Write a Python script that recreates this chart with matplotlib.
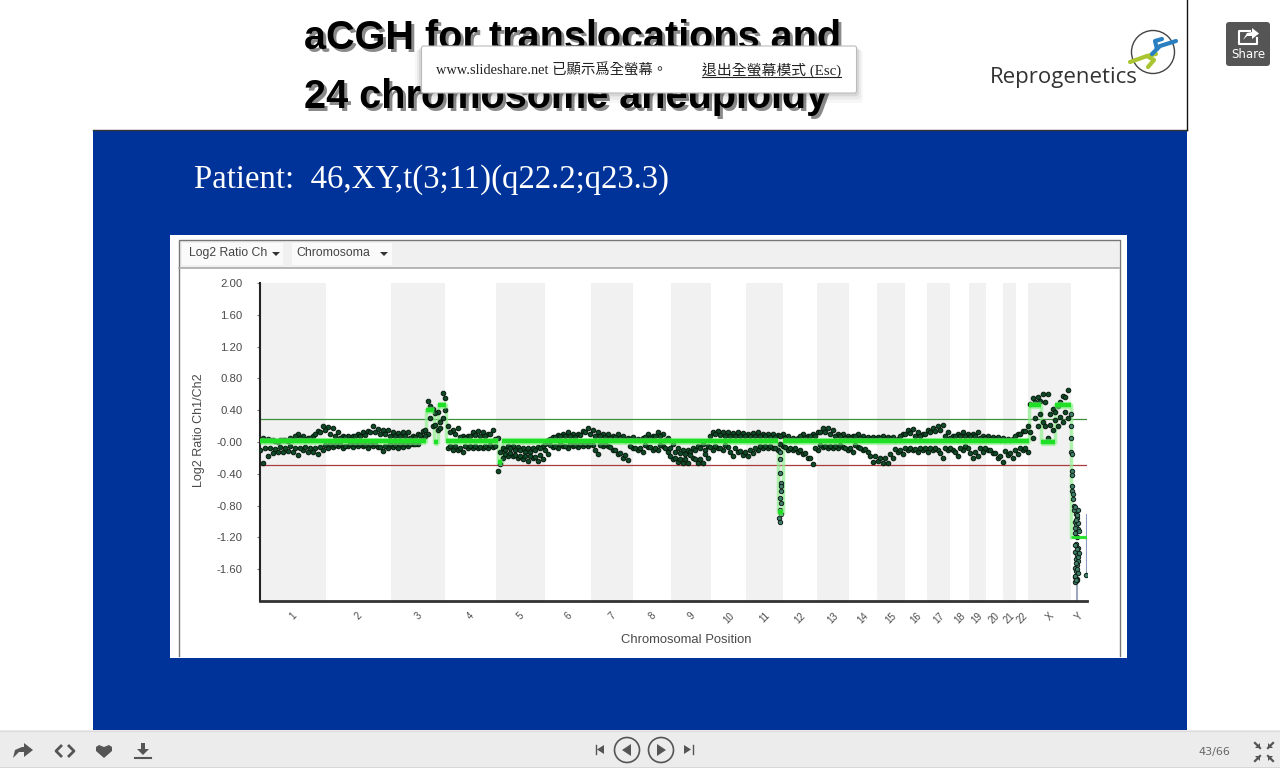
import matplotlib
matplotlib.use("Agg")
import matplotlib.pyplot as plt
from matplotlib.patches import Rectangle, FancyBboxPatch, Circle, Polygon

# chromosome boundaries along the genome axis
CHROM_EDGES = [0, 66, 131, 185, 236, 285, 331, 373, 411, 451, 486, 523, 557,
               589, 617, 645, 667, 690, 709, 726, 743, 756, 768, 811, 827]
CHROM_LABELS = ["1", "2", "3", "4", "5", "6", "7", "8", "9", "10", "11", "12",
                "13", "14", "15", "16", "17", "18", "19", "20", "21", "22", "X", "Y"]
Y_TICKS = [2.0, 1.6, 1.2, 0.8, 0.4, 0.0, -0.4, -0.8, -1.2, -1.6]
Y_LABELS = ["2.00", "1.60", "1.20", "0.80", "0.40", "-0.00", "-0.40", "-0.80", "-1.20", "-1.60"]
UPPER_LIMIT = 0.295
LOWER_LIMIT = -0.29

# probe envelope
PROBE_X = [3, 8, 13, 18, 23, 28, 33, 38, 43, 48,
           53, 58, 63, 68, 73, 78, 83, 88, 93, 98,
           103, 108, 113, 118, 123, 128, 133, 138, 143, 148,
           153, 158, 163, 168, 173, 178, 183, 188, 193, 198,
           203, 208, 213, 218, 223, 228, 233, 238, 243, 248,
           253, 258, 263, 268, 273, 278, 283, 288, 293, 298,
           303, 308, 313, 318, 323, 328, 333, 338, 343, 348,
           353, 358, 363, 368, 373, 378, 383, 388, 393, 398,
           403, 408, 413, 418, 423, 428, 433, 438, 443, 448,
           453, 458, 463, 468, 473, 478, 483, 488, 493, 498,
           503, 508, 513, 518, 523, 528, 533, 538, 543, 548,
           553, 558, 563, 568, 573, 578, 583, 588, 593, 598,
           603, 608, 613, 618, 623, 628, 633, 638, 643, 648,
           653, 658, 663, 668, 673, 678, 683, 688, 693, 698,
           703, 708, 713, 718, 723, 728, 733, 738, 743, 748,
           753, 758, 763, 768, 773, 778, 783, 788, 793, 798,
           803, 808]
PROBE_HIGH = [.05, .04, .02, .0, .02, .01, .03, .10, .08, .05,
              .08, .14, .20, .19, .17, .12, .08, .07, .08, .10,
              .12, .14, .20, .16, .15, .15, .12, .11, .12, .12,
              .08, .10, .14, .52, .42, .38, .62, .20, .15, .18,
              .08, .07, .12, .14, .12, .10, .15, .05, -.08, -.05,
              -.05, -.06, -.07, -.08, -.08, -.06, -.05, .02, .06, .09,
              .10, .12, .10, .10, .14, .18, .15, .12, .10, .10,
              .08, .10, .07, .05, .06, .04, .05, .10, .08, .12,
              .10, .05, -.03, -.08, -.10, -.10, -.08, -.05, -.03, -.05,
              .12, .14, .13, .12, .11, .12, .11, .10, .11, .12,
              .10, .10, .10, .09, .10, .08, .05, .05, .10, .08,
              .10, .12, .18, .17, .15, .10, .10, .08, .08, .10,
              .07, .06, .06, .06, .08, .06, .06, .04, .10, .15,
              .16, .12, .10, .15, .17, .20, .22, .12, .08, .10,
              .12, .10, .10, .12, .08, .08, .06, .06, .05, .04,
              .04, .10, .14, .20, .55, .56, .60, .60, .42, .45,
              .58, .65]
PROBE_LOW = [-.26, -.17, -.14, -.12, -.13, -.11, -.12, -.16, -.10, -.12,
             -.12, -.15, -.10, -.08, -.06, -.05, -.07, -.05, -.06, -.05,
             -.05, -.07, -.05, -.06, -.11, -.08, -.06, -.07, -.06, -.05,
             -.03, -.03, .05, .10, .20, .15, .30, -.08, -.10, -.10,
             -.12, -.08, -.08, -.08, -.08, -.08, -.06, -.36, -.20, -.17,
             -.18, -.20, -.22, -.24, -.20, -.24, -.22, -.15, -.06, -.07,
             -.05, -.08, -.05, -.06, -.05, -.05, -.04, -.15, -.05, -.05,
             -.10, -.15, -.20, -.23, -.08, -.10, -.12, -.06, -.10, -.10,
             -.05, -.12, -.22, -.25, -.27, -.26, -.20, -.27, -.27, -.20,
             -.10, -.08, -.10, -.06, -.17, -.12, -.16, -.18, -.14, -.10,
             -.08, -.08, -.08, -.10, -.05, -.10, -.10, -.12, -.15, -.20,
             -.28, -.10, -.06, -.08, -.07, -.08, -.06, -.10, -.12, -.06,
             -.10, -.12, -.25, -.24, -.27, -.27, -.20, -.12, -.15, -.10,
             -.10, -.13, -.10, -.12, -.10, -.10, -.20, -.10, -.10, -.18,
             -.10, -.08, -.20, -.18, -.12, -.10, -.14, -.20, -.25, -.16,
             -.20, -.15, -.10, -.12, .05, .20, .25, .05, .15, .20,
             .25, .30]

# second pass through the same cloud, closer to the call line
INNER_X = [0, 5, 10, 15, 20, 25, 30, 35, 40, 45,
           50, 55, 60, 65, 70, 75, 80, 85, 90, 95,
           100, 105, 110, 115, 120, 125, 130, 135, 140, 145,
           150, 155, 160, 165, 170, 175, 180, 185, 190, 195,
           200, 205, 210, 215, 220, 225, 230, 235, 240, 245,
           250, 255, 260, 265, 270, 275, 280, 285, 290, 295,
           300, 305, 310, 315, 320, 325, 330, 335, 340, 345,
           350, 355, 360, 365, 370, 375, 380, 385, 390, 395,
           400, 405, 410, 415, 420, 425, 430, 435, 440, 445,
           450, 455, 460, 465, 470, 475, 480, 485, 490, 495,
           500, 505, 510, 515, 520, 525, 530, 535, 540, 545,
           550, 555, 560, 565, 570, 575, 580, 585, 590, 595,
           600, 605, 610, 615, 620, 625, 630, 635, 640, 645,
           650, 655, 660, 665, 670, 675, 680, 685, 690, 695,
           700, 705, 710, 715, 720, 725, 730, 735, 740, 745,
           750, 755, 760, 765, 770, 775, 780, 785, 790, 795,
           800, 805]
INNER_HIGH = [.03, .02, .03, .01, .02, .03, .05, .07, .05, .03,
              .05, .10, .12, .15, .10, .08, .05, .06, .04, .07,
              .08, .09, .13, .12, .10, .10, .08, .07, .08, .07,
              .05, .06, .09, .15, .45, .36, .25, .55, .12, .10,
              .06, .05, .08, .09, .07, .07, .10, .04, -.12, -.10,
              -.08, -.10, -.10, -.12, -.12, -.10, -.08, -.02, .04, .06,
              .07, .08, .07, .06, .09, .12, .10, .08, .07, .06,
              .05, .06, .05, .03, .04, .03, .03, .06, .05, .08,
              .07, .03, -.07, -.12, -.14, -.15, -.12, -.10, -.08, -.10,
              .08, .10, .09, .08, .07, .08, .07, .07, .07, .08,
              .07, .07, .06, .06, .07, .05, .03, .03, .07, .05,
              .07, .08, .13, .12, .10, .07, .07, .05, .05, .07,
              .05, .04, .04, .04, .05, .04, .04, .03, .07, .10,
              .11, .08, .07, .10, .12, .14, .15, .08, .05, .07,
              .08, .07, .07, .08, .05, .05, .04, .04, .03, .03,
              .03, .07, .10, .14, .48, .50, .52, .50, .35, .38,
              .50, .56]
INNER_LOW = [-.10, -.08, -.07, -.09, -.06, -.07, -.05, -.08, -.07, -.06,
             -.08, -.07, -.06, -.04, -.03, -.04, -.03, -.05, -.03, -.03,
             -.03, -.04, -.03, -.03, -.06, -.05, -.03, -.04, -.03, -.03,
             -.02, -.02, .03, .08, .30, .22, .18, .40, -.05, -.05,
             -.07, -.05, -.05, -.05, -.06, -.05, -.04, -.05, -.28, -.15,
             -.14, -.16, -.17, -.18, -.17, -.19, -.16, -.10, -.04, -.05,
             -.03, -.05, -.03, -.04, -.03, -.03, -.03, -.10, -.04, -.03,
             -.06, -.10, -.14, -.16, -.05, -.07, -.08, -.04, -.06, -.07,
             -.04, -.08, -.17, -.20, -.22, -.21, -.16, -.22, -.22, -.15,
             -.06, -.05, -.07, -.04, -.12, -.08, -.11, -.13, -.10, -.07,
             -.05, -.05, -.05, -.07, -.03, -.06, -.07, -.08, -.10, -.14,
             -.20, -.07, -.04, -.05, -.05, -.05, -.04, -.07, -.08, -.04,
             -.07, -.09, -.18, -.17, -.20, -.20, -.15, -.09, -.10, -.07,
             -.07, -.09, -.07, -.08, -.07, -.07, -.14, -.07, -.07, -.12,
             -.07, -.05, -.14, -.12, -.08, -.07, -.10, -.14, -.18, -.11,
             -.14, -.10, -.07, -.08, .12, .30, .35, .20, .22, .28,
             .32, .38]

# chr11 deletion and chrY drop
SPIKE_X = [520, 520, 520, 521, 521, 521, 520, 521, 520, 521, 519, 520,
           811, 811, 811, 811, 812, 812, 812, 812, 812, 813, 813, 814, 814,
           815, 816, 817, 815, 816, 818, 815, 817, 816, 818, 815, 817, 816, 818,
           817, 815, 816, 818, 815, 817, 816, 815, 817, 826,
           818, 817, 815, 818, 816, 819, 817, 815, 818, 816, 819, 817, 815, 816]
SPIKE_Y = [-.12, -.22, -.39, -.52, -.55, -.62, -.70, -.77, -.85, -.90, -.96, -1.0,
           .35, .20, .05, -.12, -.15, -.37, -.42, -.55, -.62, -.65, -.72, -.80, -.85,
           -.82, -.90, -.95, -1.0, -1.05, -1.1, -1.15, -1.2, -1.28, -1.33, -1.38, -1.42, -1.47, -1.5,
           -1.55, -1.58, -1.62, -1.65, -1.7, -1.72, -1.75, -1.76, -1.74, -1.67,
           -.85, -.92, -1.08, -1.02, -.98, -1.12, -1.35, -1.30, -1.45, -1.52, -1.4, -1.6, -1.68, -1.73]

# segment calls (start, end, value)
SEG_START = [0, 166, 174, 178, 186, 238, 242, 518, 523, 769, 781, 795, 811]
SEG_END = [166, 174, 178, 186, 238, 242, 518, 523, 769, 781, 795, 811, 828]
SEG_VALUE = [.01, .40, .0, .46, .01, -.25, .01, -.88, .01, .47, .0, .47, -1.2]

BLUE = "#003399"
TEXT_GREY = "#4a4a4a"
CJK = ["Liberation Serif", "Noto Sans CJK TC", "DejaVu Sans"]


def draw_page(bg):
    bg.add_patch(Rectangle((93, 130), 1094, 600, fc=BLUE, ec="none"))
    bg.plot([93, 1187], [129.5, 129.5], color="#333333", lw=1)
    bg.plot([1186.5, 1186.5], [0, 130], color="#111111", lw=1)

    # chart panel
    bg.add_patch(Rectangle((170, 235), 957, 423, fc="white", ec="none"))
    bg.add_patch(Rectangle((179, 240), 940, 28, fc="#f0f0f0", ec="none"))
    bg.plot([178.5, 178.5, 1120, 1120], [656, 239.5, 239.5, 656], color="#777777", lw=1)
    bg.plot([179, 1119], [268, 268], color="#aaaaaa", lw=1.2)
    for x0, x1, text_x, label, arrow_x in [(182, 283, 189, "Log2 Ratio Ch", 276),
                                           (292, 392, 296, "Chromosoma", 384)]:
        bg.add_patch(Rectangle((x0, 243), x1 - x0, 22, fc="#fafafa", ec="none"))
        bg.text(text_x, 253, label, fontsize=8.8, color="#444444", va="center",
                family="Liberation Sans")
        bg.add_patch(Polygon([(arrow_x - 4, 252), (arrow_x + 4, 252), (arrow_x, 256)],
                             fc="#333333", ec="none"))

    # slide title with drop shadow
    for line, y in [("aCGH for translocations and", 38), ("24 chromosome aneuploidy", 97)]:
        bg.text(307, y + 3, line, fontsize=28.5, fontweight="bold", color="#8a8a8a",
                va="center", family="Liberation Sans", zorder=3)
        bg.text(304, y, line, fontsize=28.5, fontweight="bold", color="black",
                va="center", family="Liberation Sans", zorder=3)

    bg.text(194, 180, "Patient:  46,XY,t(3;11)(q22.2;q23.3)", fontsize=23.6, color="white",
            va="center", family="Liberation Serif")

    # fullscreen notice sits on top of the title
    for grow, alpha in [(12, .03), (8, .05), (4, .08)]:
        bg.add_patch(FancyBboxPatch((421 - grow / 2, 46 + grow / 3), 436 + grow, 47 + grow / 2,
                                    boxstyle="round,pad=0,rounding_size=4",
                                    fc="black", ec="none", alpha=alpha, zorder=5))
    bg.add_patch(FancyBboxPatch((421.5, 46), 435, 47, boxstyle="round,pad=0,rounding_size=2",
                                fc="white", ec="#bbbbbb", lw=.8, zorder=6))
    bg.text(436, 70, "www.slideshare.net 已顯示爲全螢幕。", fontsize=10.4, color="#222222",
            va="center", family=CJK, zorder=7)
    bg.text(702, 70, "退出全螢幕模式 (Esc)", fontsize=10.7, color="#222222", va="center",
            family=CJK, zorder=7)
    bg.plot([702, 841], [77, 77], color="#222222", lw=.8, zorder=7)

    # logo
    bg.text(990, 77, "Reprogenetics", fontsize=16, color="#333333", va="center", family="Open Sans")
    bg.add_patch(Circle((1153, 52), 21.5, fc="none", ec="#444444", lw=1))
    bg.plot([1130, 1147, 1156], [62, 56, 54], color="#a9c52f", lw=3, solid_capstyle="round")
    bg.plot([1147, 1154, 1148], [56, 60, 67], color="#a9c52f", lw=3, solid_capstyle="round")
    bg.plot([1152, 1160, 1176], [54, 46, 41], color="#2a7fc0", lw=3, solid_capstyle="round")
    bg.plot([1157, 1155, 1162], [49, 41, 39], color="#2a7fc0", lw=3, solid_capstyle="round")

    # share button
    bg.add_patch(FancyBboxPatch((1226, 22), 44, 44, boxstyle="round,pad=0,rounding_size=3",
                                fc="#555555", ec="none"))
    bg.plot([1250, 1239, 1239, 1257, 1257], [31, 31, 44, 44, 38], color="white", lw=1.5)
    bg.add_patch(Polygon([(1243, 40), (1247, 33), (1252, 32), (1252, 28), (1259, 33.5),
                          (1252, 39), (1252, 36), (1247, 36)], fc="white", ec="none"))
    bg.text(1248, 54, "Share", fontsize=8.5, color="white", ha="center", va="center",
            family="DejaVu Sans")


def draw_toolbar(bg):
    icon = "#555555"
    bg.add_patch(Rectangle((0, 730), 1280, 38, fc="#ececec", ec="none"))
    bg.plot([0, 1280], [730.5, 730.5], color="#dddddd", lw=1)
    bg.plot([0, 1280], [767.5, 767.5], color="#888888", lw=1)

    bg.add_patch(Polygon([(13, 758), (15, 750), (22, 747), (24, 747), (24, 743), (33, 750),
                          (24, 757), (24, 752), (19, 752)], fc=icon, ec="none"))
    bg.plot([61, 56, 61], [746, 751, 756], color=icon, lw=2)
    bg.plot([69, 74, 69], [746, 751, 756], color=icon, lw=2)
    bg.add_patch(Polygon([(104, 758), (96, 751), (96, 747), (99, 745), (104, 747), (109, 745),
                          (112, 747), (112, 751)], fc=icon, ec="none"))
    bg.add_patch(Polygon([(141, 743), (145, 743), (145, 749), (149, 749), (143, 755), (137, 749),
                          (141, 749)], fc=icon, ec="none"))
    bg.plot([135, 151], [758, 758], color=icon, lw=1.5)

    bg.plot([595.5, 595.5], [745, 754], color=icon, lw=1)
    bg.add_patch(Polygon([(604, 745), (604, 754), (597, 749.5)], fc=icon, ec="none"))
    for cx, pts in [(627, [(631, 744), (631, 756), (622, 750)]),
                    (661, [(657, 744), (657, 756), (666, 750)])]:
        bg.add_patch(Circle((cx, 750), 12.5, fc="none", ec=icon, lw=1.2))
        bg.add_patch(Polygon(pts, fc=icon, ec="none"))
    bg.add_patch(Polygon([(684, 745), (684, 754), (691, 749.5)], fc=icon, ec="none"))
    bg.plot([692.5, 692.5], [745, 754], color=icon, lw=1)

    bg.text(1214, 752, "43/66", fontsize=8, color="#666666", ha="center", va="center",
            family="DejaVu Sans")
    for cx, cy, sx, sy in [(1260, 748, -1, -1), (1268, 748, 1, -1), (1260, 756, -1, 1), (1268, 756, 1, 1)]:
        bg.plot([cx, cx + 5 * sx], [cy, cy + 5 * sy], color=icon, lw=1.6)
        bg.add_patch(Polygon([(cx, cy), (cx + 5 * sx, cy), (cx, cy + 5 * sy)], fc=icon, ec="none"))


def draw_chart(ax):
    ax.set_facecolor("none")
    ax.set_xlim(0, 827)
    ax.set_ylim(-2, 2)

    for left, right in zip(CHROM_EDGES[0::2], CHROM_EDGES[1::2]):
        ax.axvspan(left, right, color="#f1f1f1", lw=0, zorder=0)

    ax.plot([0, 826], [UPPER_LIMIT, UPPER_LIMIT], color="#3f8f3f", lw=.9, zorder=1)
    ax.plot([0, 826], [LOWER_LIMIT, LOWER_LIMIT], color="#a83c3c", lw=.9, zorder=1)

    # pale step trace behind the calls
    step_x, step_y = [], []
    for start, end, value in zip(SEG_START, SEG_END, SEG_VALUE):
        step_x += [start, end]
        step_y += [value, value]
    ax.plot(step_x, step_y, color="#8ff08f", lw=2.5, alpha=.7, zorder=2, solid_joinstyle="miter")

    dot = dict(s=11, c="#0f4a27", edgecolors="#061a0c", linewidths=.7, zorder=3)
    ax.scatter(PROBE_X, PROBE_HIGH, **dot)
    ax.scatter(PROBE_X, PROBE_LOW, **dot)
    ax.scatter(INNER_X, INNER_HIGH, **dot)
    ax.scatter(INNER_X, INNER_LOW, **dot)
    ax.scatter(SPIKE_X, SPIKE_Y, s=10, c="#3f7f6a", edgecolors="#102018", linewidths=.7, zorder=3)

    ax.plot([826, 826], [-.9, -1.67], color="#8a9ac0", lw=.8, zorder=2)
    ax.plot([817, 817], [-1.75, -2], color="#a0a8c0", lw=1.5, zorder=2)

    # flat stretches get a halo, the short jumps stay crisp
    ax.hlines(SEG_VALUE[:-1], SEG_START[:-1], SEG_END[:-1], color="#7ff07f", lw=5.2, alpha=.6, zorder=4)
    ax.hlines(SEG_VALUE[:-1], SEG_START[:-1], SEG_END[:-1], color="#1fe026", lw=3.2, zorder=4)
    ax.hlines(SEG_VALUE[-1:], SEG_START[-1:], SEG_END[-1:], color="#25e02a", lw=2, zorder=4)

    ax.set_yticks(Y_TICKS)
    ax.set_yticklabels(Y_LABELS, fontsize=8.2, color=TEXT_GREY, family="Liberation Sans")
    ax.tick_params(axis="y", length=2.5, width=.8, color="#777777", pad=10)

    centers = [(a + b) / 2 for a, b in zip(CHROM_EDGES[:-1], CHROM_EDGES[1:])]
    ax.set_xticks(centers)
    ax.set_xticklabels(CHROM_LABELS, fontsize=7, color=TEXT_GREY, rotation=45,
                       family="Liberation Sans")
    ax.tick_params(axis="x", length=0, pad=7)
    ax.set_xticks(CHROM_EDGES[1:-1], minor=True)
    ax.tick_params(axis="x", which="minor", length=3, width=.8, color="white", direction="inout")

    for side in ["top", "right"]:
        ax.spines[side].set_visible(False)
    ax.spines["left"].set_linewidth(1.5)
    ax.spines["left"].set_color("#222222")
    ax.spines["bottom"].set_linewidth(2)
    ax.spines["bottom"].set_color("#333333")

    ax.set_xlabel("Chromosomal Position", fontsize=9.4, color=TEXT_GREY, family="Liberation Sans")
    ax.xaxis.set_label_coords(0.516, -0.105)
    ax.set_ylabel("Log2 Ratio Ch1/Ch2", fontsize=9, color=TEXT_GREY, family="Liberation Sans")
    ax.yaxis.set_label_coords(-0.066, 0.537)


def main():
    fig = plt.figure(figsize=(12.8, 7.68), dpi=100, facecolor="white")

    bg = fig.add_axes([0, 0, 1, 1], zorder=0)
    bg.set_xlim(0, 1280)
    bg.set_ylim(768, 0)
    bg.axis("off")
    draw_page(bg)
    draw_toolbar(bg)

    ax = fig.add_axes([260 / 1280, (768 - 601) / 768, 827 / 1280, 318 / 768], zorder=1)
    draw_chart(ax)

    fig.savefig("out.png", dpi=100, facecolor="white")
    plt.close(fig)


if __name__ == "__main__":
    main()
